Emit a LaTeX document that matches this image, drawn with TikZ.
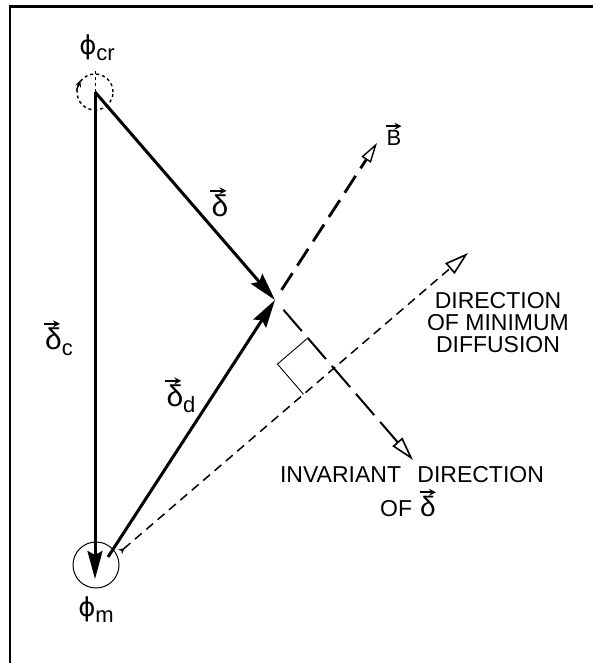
\documentclass[tikz,border=0pt]{standalone}
\usepackage{fontspec}
\setmainfont{Liberation Sans}
\newfontfamily\symbolfont{DejaVu Sans}
\usepackage{tikz}
\usetikzlibrary{arrows.meta,calc,positioning}
\newcommand{\lowsub}[1]{\raisebox{-6pt}{\fontsize{22}{22}\selectfont #1}}
\tikzset{
  frame line/.style={line width=2.6pt},
  vector arrow/.style={-{Stealth[length=28pt,width=15pt,inset=4pt]},
    line width=3pt},
  field line/.style={line width=2.8pt, dash pattern=on 20pt off 9pt,
    -{Triangle[open,length=20pt,width=11pt,line width=1.4pt]}},
  invariant line/.style={line width=2pt, dash pattern=on 28pt off 9pt,
    -{Triangle[open,length=24pt,width=13pt,line width=1.6pt]}},
  diffusion line/.style={line width=1.5pt, dash pattern=on 9pt off 6pt,
    {Stealth[length=6pt,width=6pt,reversed]}-{Triangle[open,length=24pt,
    width=14pt,line width=1.6pt]}},
  vec mark/.style={line width=1.8pt, -{Stealth[length=7pt,width=7pt]}},
  angle ring/.style={circle, draw, inner sep=0pt},
  vec label/.style={font=\fontsize{30}{32}\selectfont, inner sep=0pt},
  phi label/.style={font=\fontsize{26}{28}\selectfont, inner sep=0pt},
  caps label/.style={font=\fontsize{23}{22}\selectfont, align=center,
    inner sep=0pt}
}

\begin{document}
\begin{tikzpicture}[x=1pt, y=-1pt]
  \useasboundingbox (0,0) rectangle (593,663);
  \draw[frame line] (10,663) -- (10,6.5) -- (593,6.5);

  \node[angle ring, dashed, line width=1.4pt, minimum size=36pt]
    (crring) at (95,92) {};
  \node[angle ring, line width=1pt, minimum size=46pt]
    (mring) at (96,565) {};
  \coordinate (tip) at (275,300);
  \coordinate (mtip) at (95,579);
  \coordinate (dstart) at (108,557);
  \coordinate (bend) at (377,143);
  \coordinate (invend) at (413,460);
  \coordinate (diffstart) at (120,552);
  \coordinate (diffend) at (468,253);

  \draw[dashed, line width=1pt] (crring.center) -- ++(0,-22);
  \draw[line width=1.4pt, -{Stealth[length=7pt,width=6pt]}]
    (crring.175) -- (crring.140);

  \draw[vector arrow] (crring.center) -- (tip);
  \draw[vector arrow] (crring.center) -- (mtip);
  \draw[vector arrow] (dstart) -- (tip);
  \draw[field line] ($(tip)!12pt!(bend)$) -- (bend);
  \draw[invariant line] ($(tip)!13pt!(invend)$) -- (invend);
  \draw[diffusion line] (diffstart) -- (diffend);

  \coordinate (cross) at (intersection of tip--invend and diffstart--diffend);
  \coordinate (sqa) at ($(cross)!40pt!(tip)$);
  \coordinate (sqc) at ($(cross)!40pt!(diffstart)$);
  \draw[line width=0.9pt] (sqa) -- ($(sqa)+(sqc)-(cross)$) -- (sqc);

  \node[phi label] (crlabel) at (97,48) {{\symbolfont ϕ}\lowsub{cr}};
  \node[phi label] (mlabel) at (96,610) {{\symbolfont ϕ}\lowsub{m}};
  \node[vec label] (dlabel) at (220,206) {δ};
  \node[vec label] (dclabel) at (59,342) {δ\lowsub{c}};
  \node[vec label] (ddlabel) at (181,399) {δ\lowsub{d}};
  \node[vec label, font=\fontsize{22}{24}\selectfont] (blabel) at (394,138)
    {B};
  \node[caps label] (difftext) at (498,323)
    {DIRECTION\\OF MINIMUM\\DIFFUSION};
  \node[caps label] (invtext) at (412,475) {INVARIANT\hspace{10pt} DIRECTION};
  \node[caps label, below=13pt of invtext, xshift=-4pt] (invof)
    {OF\hspace{8pt}\fontsize{28}{28}\selectfont δ};

  \draw[vec mark] ([xshift=-1pt,yshift=4pt]dlabel.north west) -- ++(16,0);
  \draw[vec mark] ([xshift=-1pt,yshift=4pt]dclabel.north west) -- ++(16,0);
  \draw[vec mark] ([xshift=-1pt,yshift=4pt]ddlabel.north west) -- ++(16,0);
  \draw[vec mark] ([xshift=0pt,yshift=4pt]blabel.north west) -- ++(15,0);
  \draw[vec mark] ([xshift=-16pt,yshift=4pt]invof.north east) -- ++(16,0);
\end{tikzpicture}
\end{document}
